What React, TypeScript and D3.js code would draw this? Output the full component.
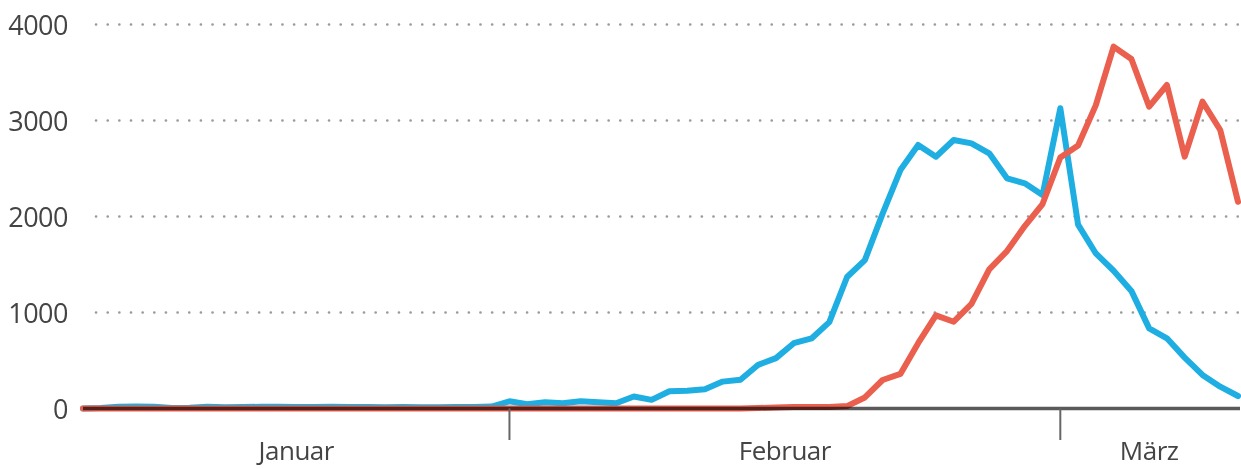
import * as d3 from "d3";

// daily values
const blueSeries = [
  0, 5, 18, 22, 18, 5, 8, 18, 12, 15, 18, 18, 15, 15, 18, 15, 15, 12, 15, 12, 12, 15, 15, 20,
  75, 45, 65, 55, 75, 65, 55, 125, 90, 180, 185, 200, 280, 300, 455, 525, 680, 730,
  900, 1370, 1545, 2030, 2484, 2745, 2623, 2797, 2762, 2658, 2398, 2346, 2224,
  3127, 1915, 1615, 1435, 1225, 835, 731, 530, 350, 227, 130,
];
const redSeries = [
  0, 0, 0, 0, 0, 0, 0, 0, 0, 0, 0, 0, 0, 0, 0, 0, 0, 0, 0, 0, 0, 0, 0, 0,
  0, 0, 0, 0, 0, 0, 0, 0, 0, 0, 0, 0, 0, 0, 5, 10, 15, 15,
  15, 25, 115, 297, 360, 680, 970, 904, 1090, 1450, 1640, 1900, 2130,
  2615, 2740, 3160, 3769, 3640, 3144, 3370, 2623, 3196, 2901, 2154,
];
const yTicks = [0, 1000, 2000, 3000, 4000];
const months = ["Januar", "Februar", "März"];
const monthStart = [0, 24, 55]; // day index where each month begins

const W = 1241;
const H = 469;
const font = "'Open Sans', sans-serif";

export default function App() {
  const last = blueSeries.length - 1;
  const x = d3.scaleLinear().domain([0, last]).range([83, 1238]);
  const y = d3.scaleLinear().domain([0, 4000]).range([408.5, 24.5]);

  const line = d3
    .line<number>()
    .x((_, i) => x(i))
    .y((d) => y(d));

  const monthEnds = monthStart.slice(1).concat([last]);

  return (
    <svg
      width={W}
      height={H}
      style={{ position: "absolute", left: 0, top: 0, background: "#fff" }}
    >
      {/* dotted grid */}
      {yTicks.slice(1).map((t) => (
        <line
          key={t}
          x1={96}
          x2={1240}
          y1={y(t)}
          y2={y(t)}
          stroke="#9a9a9a"
          strokeWidth={2.6}
          strokeLinecap="round"
          strokeDasharray="0.1 11.55"
        />
      ))}
      {yTicks.map((t) => (
        <text
          key={t}
          x={68}
          y={y(t) + 10}
          textAnchor="end"
          fontFamily={font}
          fontSize={27}
          fill="#444"
          style={{ letterSpacing: "-0.5px" }}
        >
          {t}
        </text>
      ))}

      <path
        d={line(blueSeries) || ""}
        fill="none"
        stroke="#1eaee2"
        strokeWidth={6}
        strokeLinejoin="round"
        strokeLinecap="round"
      />
      <path
        d={line(redSeries) || ""}
        fill="none"
        stroke="#ea5f4d"
        strokeWidth={6}
        strokeLinejoin="round"
        strokeLinecap="round"
      />

      {/* x axis */}
      <line
        x1={83}
        x2={1240}
        y1={y(0)}
        y2={y(0)}
        stroke="#5a5a5a"
        strokeWidth={3.5}
        style={{ mixBlendMode: "multiply" }}
      />
      {monthStart.slice(1).map((m) => (
        <line
          key={m}
          x1={x(m)}
          x2={x(m)}
          y1={y(0)}
          y2={440}
          stroke="#666"
          strokeWidth={2}
        />
      ))}
      {months.map((m, i) => (
        <text
          key={m}
          x={(x(monthStart[i]) + x(monthEnds[i])) / 2}
          y={460}
          textAnchor="middle"
          fontFamily={font}
          fontSize={26}
          fill="#444"
          style={{ letterSpacing: "-0.5px" }}
        >
          {m}
        </text>
      ))}
    </svg>
  );
}
